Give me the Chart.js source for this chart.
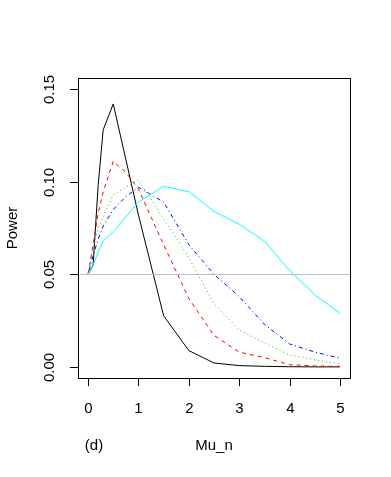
<!DOCTYPE html>
<html>
<head>
<meta charset="utf-8">
<title>Power curves</title>
<script src="https://cdn.jsdelivr.net/npm/chart.js@4.4.1/dist/chart.umd.min.js"></script>
<style>
  html, body { margin: 0; padding: 0; background: #fff; }
  #wrap { width: 391px; height: 477px; }
</style>
</head>
<body>
<div id="wrap"><canvas id="powerChart" width="391" height="477"></canvas></div>
<script>
// values
const muValues   = [0, 0.1, 0.2, 0.3, 0.5, 0.75, 1, 1.5, 2, 2.5, 3, 3.5, 4, 4.5, 5];
const powerBlack = [0.05, 0.055, 0.098, 0.128, 0.142, 0.112, 0.082, 0.0276, 0.0088, 0.0021, 0.0007, 0.0003, 0.0001, 0, 0];
const powerRed   = [0.05, 0.066, 0.083, 0.0945, 0.111, 0.105, 0.096, 0.066, 0.037, 0.017, 0.008, 0.005, 0.0012, 0.0005, 0.0003];
const powerGreen = [0.05, 0.064, 0.075, 0.081, 0.093, 0.097, 0.101, 0.080, 0.059, 0.034, 0.020, 0.013, 0.0065, 0.0038, 0.0016];
const powerBlue  = [0.05, 0.060, 0.069, 0.076, 0.085, 0.092, 0.097, 0.089, 0.066, 0.050, 0.038, 0.023, 0.0124, 0.008, 0.0047];
const powerCyan  = [0.05, 0.055, 0.062, 0.068, 0.073, 0.081, 0.089, 0.0975, 0.0946, 0.084, 0.077, 0.068, 0.052, 0.039, 0.029];

const xTicks = [0, 1, 2, 3, 4, 5];
const xTickLabels = ["0", "1", "2", "3", "4", "5"];
const yTicks = [0, 0.05, 0.10, 0.15];
const yTickLabels = ["0.00", "0.05", "0.10", "0.15"];
const refLevel = 0.05;

const FONT = "15px 'Liberation Sans', Arial, sans-serif";

function pts(ys) {
  return muValues.map((m, i) => ({ x: m, y: ys[i] }));
}

// ----------------------------------
// R-style frame, ticks, labels, abline
// ----------------------------------
const rAxes = {
  id: "rAxes",
  afterDatasetsDraw(chart) {
    const { ctx, chartArea: a, scales: { x, y } } = chart;
    ctx.save();

    // h = 0.05 reference line
    const yr = Math.round(y.getPixelForValue(refLevel)) + 0.5;
    ctx.strokeStyle = "#bebebe";
    ctx.lineWidth = 1;
    ctx.beginPath();
    ctx.moveTo(a.left, yr);
    ctx.lineTo(a.right, yr);
    ctx.stroke();

    // box
    ctx.strokeStyle = "#000";
    ctx.strokeRect(a.left + 0.5, a.top + 0.5, a.right - a.left, a.bottom - a.top);

    ctx.fillStyle = "#000";
    ctx.font = FONT;

    // x axis
    ctx.textAlign = "center";
    ctx.textBaseline = "middle";
    xTicks.forEach((v, i) => {
      const px = Math.round(x.getPixelForValue(v)) + 0.5;
      ctx.beginPath();
      ctx.moveTo(px, a.bottom);
      ctx.lineTo(px, a.bottom + 8);
      ctx.stroke();
      ctx.fillText(xTickLabels[i], px, 409);
    });

    // y axis
    yTicks.forEach((v, i) => {
      const py = Math.round(y.getPixelForValue(v)) + 0.5;
      ctx.beginPath();
      ctx.moveTo(a.left, py);
      ctx.lineTo(a.left - 8, py);
      ctx.stroke();
      ctx.save();
      ctx.translate(50, py);
      ctx.rotate(-Math.PI / 2);
      ctx.fillText(yTickLabels[i], 0, 0);
      ctx.restore();
    });

    // axis titles
    ctx.fillText("Mu_n", (a.left + a.right) / 2, 446);
    ctx.fillText("(d)", 94, 446);
    ctx.save();
    ctx.translate(13, (a.top + a.bottom) / 2);
    ctx.rotate(-Math.PI / 2);
    ctx.fillText("Power", 0, 0);
    ctx.restore();

    ctx.restore();
  }
};

function line(label, ys, color, dash, order) {
  return {
    label,
    data: pts(ys),
    borderColor: color,
    borderWidth: 1,
    borderDash: dash,
    pointRadius: 0,
    tension: 0,
    fill: false,
    order
  };
}

new Chart(document.getElementById("powerChart"), {
  type: "line",
  data: {
    datasets: [
      line("black", powerBlack, "#000000", [], 5),
      line("red", powerRed, "#ff0000", [4, 4], 4),
      line("green", powerGreen, "#00cd00", [1, 3], 3),
      line("blue", powerBlue, "#0000ff", [1, 3, 4, 3], 2),
      line("cyan", powerCyan, "#00ffff", [], 1)
    ]
  },
  options: {
    responsive: false,
    animation: false,
    devicePixelRatio: 1,
    layout: { padding: { left: 78, top: 78, right: 41, bottom: 99 } },
    plugins: {
      legend: { display: false },
      tooltip: { enabled: false }
    },
    scales: {
      x: { type: "linear", min: -0.2, max: 5.2, display: false },
      y: { type: "linear", min: -0.006, max: 0.156, display: false }
    }
  },
  plugins: [rAxes]
});
</script>
</body>
</html>
